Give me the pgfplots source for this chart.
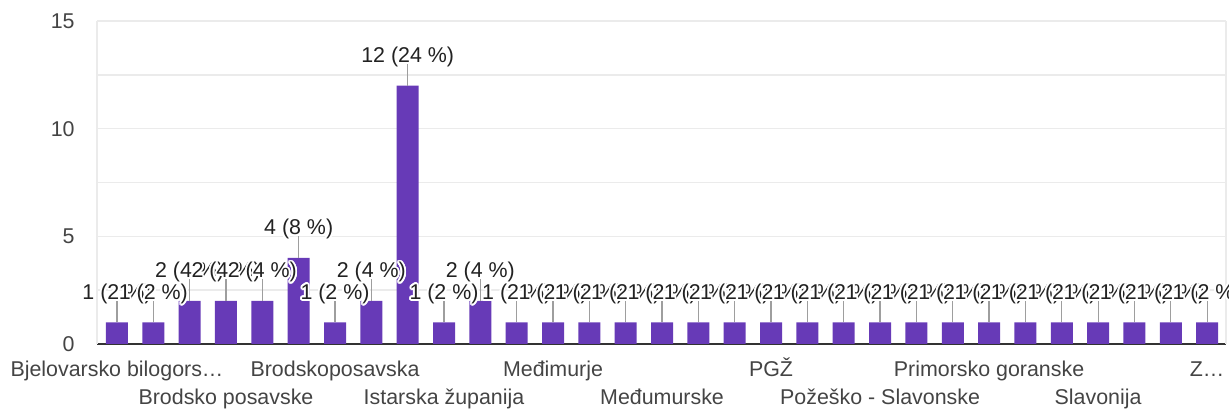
\documentclass[border=0pt]{standalone}
\usepackage{pgfplots}
\pgfplotsset{compat=1.18}
\usepackage{fontspec}
\setmainfont{Liberation Sans}
\usepackage{contour}
\contourlength{0.9pt}
\contournumber{20}
\definecolor{barpurple}{HTML}{673AB7}
\definecolor{gridgray}{HTML}{EBEBEB}
\definecolor{ticktext}{HTML}{444444}
\definecolor{labtext}{HTML}{222222}
\definecolor{leader}{HTML}{9E9E9E}
\definecolor{baseline}{HTML}{333333}
\newcommand\chartfont{\fontsize{10.7pt}{12pt}\selectfont}
\begin{document}
\begin{tikzpicture}
\useasboundingbox (-48.5pt,-33pt) rectangle (566pt,172pt);
\begin{axis}[
  at={(0pt,0pt)}, anchor=south west,
  scale only axis, width=564.5pt, height=161.5pt,
  xmin=-0.55, xmax=30.52, ymin=0, ymax=15,
  separate axis lines,
  axis x line*=bottom,
  x axis line style={-, draw=baseline, line width=1pt},
  y axis line style={draw=gridgray, line width=0.8pt},
  ytick={0,5,10,15}, minor ytick={2.5,7.5,12.5},
  ymajorgrids, yminorgrids,
  major grid style={gridgray, line width=0.8pt},
  minor grid style={gridgray, line width=0.8pt},
  major tick length=0pt, minor tick length=0pt,
  /pgf/number format/assume math mode=true,
  yticklabel style={anchor=east, inner sep=0pt, xshift=-11pt, font=\chartfont, text=ticktext},
  xtick={0,6,12,18,24,30},
  xticklabels={Bjelovarsko bilogors…, Brodskoposavska, Međimurje, PGŽ, Primorsko goranske, Z…},
  xticklabel style={anchor=base, inner sep=0pt, yshift=-16.5pt, font=\chartfont, text=ticktext},
  extra x ticks={3,9,15,21,27},
  extra x tick labels={Brodsko posavske, Istarska županija, Međumurske, Požeško - Slavonske, Slavonija},
  extra x tick style={xticklabel style={yshift=-14pt}},
  point meta=explicit symbolic,
  nodes near coords={\contour{white}{\pgfplotspointmeta}},
  every node near coord/.style={anchor=base, yshift=11.5pt, inner sep=0pt, font=\chartfont, text=labtext},
]
\addplot[ybar, bar width=11pt, fill=barpurple, draw=none,
  error bars/.cd, y dir=plus, y fixed=1.0, error mark=none,
  error bar style={draw=leader, line width=0.6pt}]
coordinates {
(0,1) [1 (2 \%)]
(1,1) [1 (2 \%)]
(2,2) [2 (4 \%)]
(3,2) [2 (4 \%)]
(4,2) [2 (4 \%)]
(5,4) [4 (8 \%)]
(6,1) [1 (2 \%)]
(7,2) [2 (4 \%)]
(8,12) [12 (24 \%)]
(9,1) [1 (2 \%)]
(10,2) [2 (4 \%)]
(11,1) [1 (2 \%)]
(12,1) [1 (2 \%)]
(13,1) [1 (2 \%)]
(14,1) [1 (2 \%)]
(15,1) [1 (2 \%)]
(16,1) [1 (2 \%)]
(17,1) [1 (2 \%)]
(18,1) [1 (2 \%)]
(19,1) [1 (2 \%)]
(20,1) [1 (2 \%)]
(21,1) [1 (2 \%)]
(22,1) [1 (2 \%)]
(23,1) [1 (2 \%)]
(24,1) [1 (2 \%)]
(25,1) [1 (2 \%)]
(26,1) [1 (2 \%)]
(27,1) [1 (2 \%)]
(28,1) [1 (2 \%)]
(29,1) [1 (2 \%)]
(30,1) [1 (2 \%)]
};
\end{axis}
\end{tikzpicture}
\end{document}
